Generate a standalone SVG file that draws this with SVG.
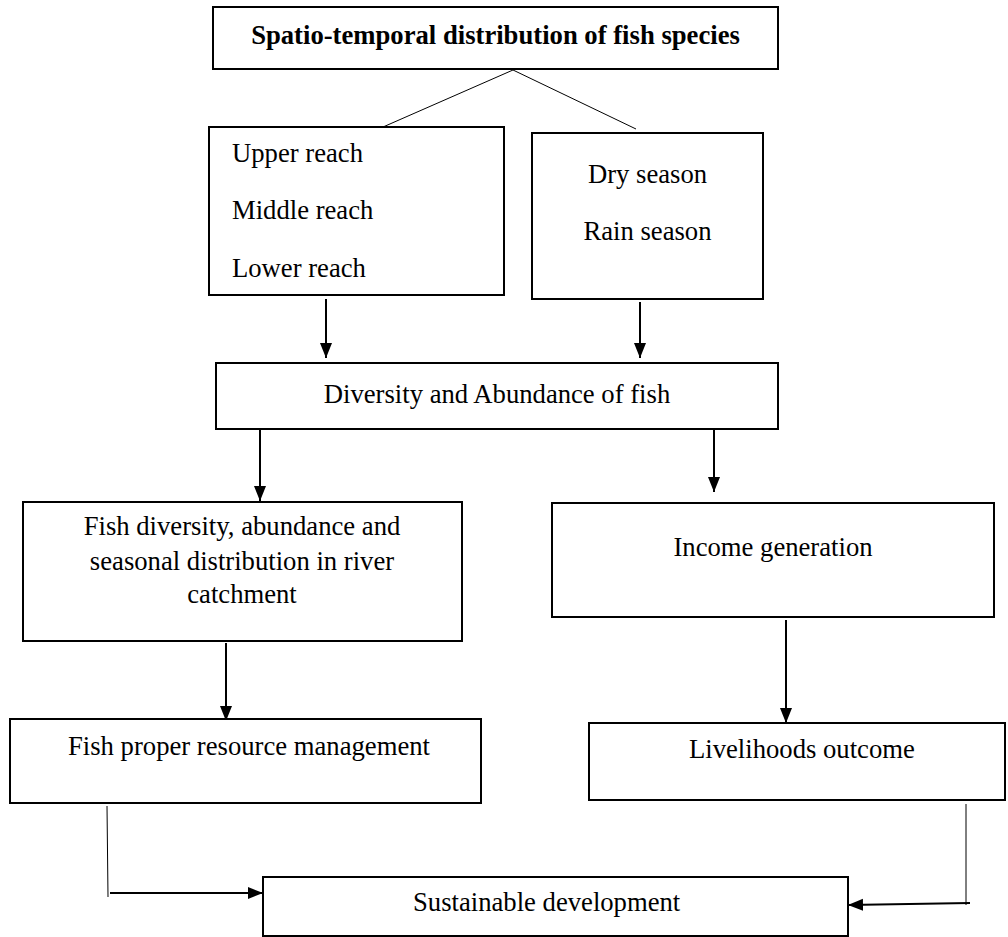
<svg xmlns="http://www.w3.org/2000/svg" width="1008" height="937" viewBox="0 0 1008 937">
<style>
.box{fill:#fff;stroke:#000;stroke-width:2}
.t{font-family:"Liberation Serif","Times New Roman",serif;font-size:26.67px;fill:#000}
.b{font-weight:bold}
.thin{fill:none;stroke:#000;stroke-width:1}
.arr{fill:none;stroke:#000;stroke-width:2;marker-end:url(#ah)}
</style>
<defs>
<marker id="ah" markerUnits="userSpaceOnUse" markerWidth="16" markerHeight="14" refX="15" refY="6" orient="auto">
<path d="M0,0 L15,6 L0,12 z" fill="#000"/>
</marker>
</defs>
<rect width="1008" height="937" fill="#fff"/>
<g id="connectors">
<path class="thin" d="M513,70 L383,127"/>
<path class="thin" d="M513,70 L636,129"/>
<path class="arr" d="M326,299 L326,358"/>
<path class="arr" d="M640,302 L640,358"/>
<path class="arr" d="M260,430 L260,501"/>
<path class="arr" d="M714,430 L714,492"/>
<path class="arr" d="M226,643 L226,721"/>
<path class="arr" d="M786,620 L786,723"/>
<path class="thin" d="M107,806 L108,897"/>
<path class="arr" d="M110,893 L263,893"/>
<path class="thin" d="M966,804 L966,905"/>
<path class="arr" d="M970,903 L848,905"/>
</g>
<g id="title">
<rect class="box" x="213" y="7" width="565" height="62"/>
<text class="t b" x="495.5" y="44" text-anchor="middle">Spatio-temporal distribution of fish species</text>
</g>
<g id="reach">
<rect class="box" x="209" y="127" width="295" height="168"/>
<text class="t" x="232" y="162">Upper reach</text>
<text class="t" x="232" y="219">Middle reach</text>
<text class="t" x="232" y="277">Lower reach</text>
</g>
<g id="season">
<rect class="box" x="532" y="133" width="231" height="166"/>
<text class="t" x="647.5" y="183" text-anchor="middle">Dry season</text>
<text class="t" x="647.5" y="240" text-anchor="middle">Rain season</text>
</g>
<g id="diversity">
<rect class="box" x="216" y="363" width="562" height="66"/>
<text class="t" x="497" y="403" text-anchor="middle">Diversity and Abundance of fish</text>
</g>
<g id="fish-diversity">
<rect class="box" x="23" y="502" width="439" height="139"/>
<text class="t" x="242" y="535" text-anchor="middle">Fish diversity, abundance and</text>
<text class="t" x="242" y="570" text-anchor="middle">seasonal distribution in river</text>
<text class="t" x="242" y="603" text-anchor="middle">catchment</text>
</g>
<g id="income">
<rect class="box" x="552" y="503" width="442" height="114"/>
<text class="t" x="773" y="556" text-anchor="middle">Income generation</text>
</g>
<g id="management">
<rect class="box" x="10" y="719" width="471" height="84"/>
<text class="t" x="68" y="755">Fish proper resource management</text>
</g>
<g id="livelihoods">
<rect class="box" x="589" y="723" width="416" height="77"/>
<text class="t" x="689" y="758">Livelihoods outcome</text>
</g>
<g id="sustainable">
<rect class="box" x="263" y="877" width="585" height="59"/>
<text class="t" x="413" y="911">Sustainable development</text>
</g>
</svg>
